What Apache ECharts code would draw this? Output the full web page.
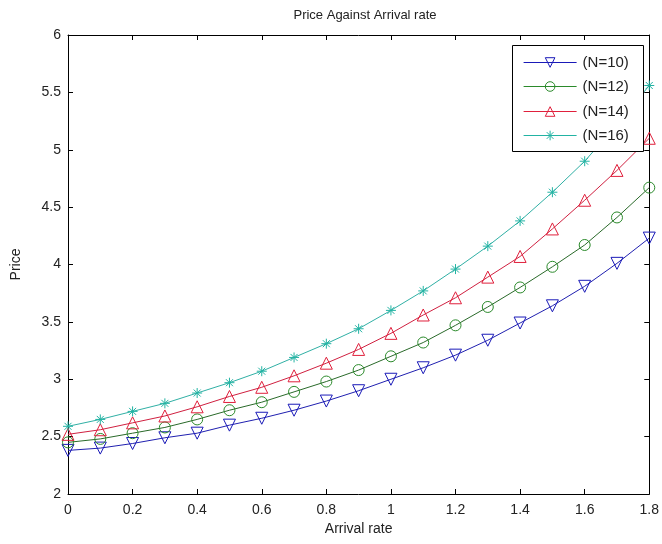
<!DOCTYPE html>
<html><head><meta charset="utf-8">
<script src="https://cdn.jsdelivr.net/npm/echarts@6/dist/echarts.min.js"></script>
<style>html,body{margin:0;padding:0;background:#fff}#c{width:662px;height:544px}</style>
</head><body><div id="c"></div>
<script>
const arrivalRate = [0,0.1,0.2,0.3,0.4,0.5,0.6,0.7,0.8,0.9,1.0,1.1,1.2,1.3,1.4,1.5,1.6,1.7,1.8];
const priceN10 = [2.38,2.40,2.44,2.49,2.53,2.60,2.66,2.73,2.81,2.90,3.00,3.10,3.21,3.34,3.49,3.64,3.81,4.01,4.23];
const priceN12 = [2.45,2.48,2.53,2.58,2.65,2.73,2.80,2.89,2.98,3.08,3.20,3.32,3.47,3.63,3.80,3.98,4.17,4.41,4.67];
const priceN14 = [2.52,2.56,2.62,2.68,2.76,2.85,2.93,3.03,3.14,3.26,3.40,3.56,3.71,3.89,4.07,4.31,4.56,4.82,5.10];
const priceN16 = [2.59,2.65,2.72,2.79,2.88,2.97,3.07,3.19,3.31,3.44,3.60,3.77,3.96,4.16,4.38,4.63,4.90,5.22,5.56];
const seriesNames = ['(N=10)','(N=12)','(N=14)','(N=16)'];
const xTicks = [0,0.2,0.4,0.6,0.8,1,1.2,1.4,1.6,1.8];

const F = 'Liberation Sans, Arial, sans-serif';
const colors = ['#1a1ab8','#2b8a2b','#e0203c','#22b3a3'];
const lineColors = ['#2020b0','#2a6a2a','#d02040','#30b0a5'];
const star = 'path://M0,-10L0,10M-10,0L10,0M-7,-7L7,7M-7,7L7,-7';
const symbols = ['triangle','circle','triangle',star];
const rotates = [180,0,0,0];
const sizes = [12,11,12,10];
const allData = [priceN10, priceN12, priceN14, priceN16];

const series = allData.map((d,i)=>({
  name: seriesNames[i], type:'line', color: colors[i], z:2,
  data: arrivalRate.map((x,j)=>[x,d[j]]),
  symbol: symbols[i], symbolRotate: rotates[i], symbolSize: sizes[i],
  showAllSymbol: true, smooth: false,
  lineStyle:{color: lineColors[i], width:1},
  itemStyle:{color:'rgba(0,0,0,0)', borderColor: colors[i], borderWidth:1},
  emphasis:{disabled:true}, animation:false
}));

const legends = seriesNames.map((n,i)=>({
  data:[n], left:523, top:55 + Math.round(i*24.3), z:20, padding:0,
  itemWidth:53, itemHeight:12, itemGap:0,
  lineStyle:{color: colors[i], width:1.2},
  itemStyle:{color:'rgba(0,0,0,0)', borderColor: colors[i], borderWidth:1},
  textStyle:{fontFamily:F, fontSize:15, color:'#222', padding:[0,0,0,1]},
  selectedMode:false
}));

const chart = echarts.init(document.getElementById('c'), null, {renderer:'canvas'});
chart.setOption({
  animation:false,
  backgroundColor:'#fff',
  title:{text:'Price Against Arrival rate', left:360, top:4, textAlign:'center',
    textStyle:{fontFamily:F, fontSize:13, fontWeight:'normal', color:'#222'}},
  grid:{left:68, right:11, top:35, bottom:50},
  graphic:[{type:'rect', left:512, top:45, z:10,
    shape:{x:0, y:0, width:131, height:106},
    style:{fill:'#fff', stroke:'#000', lineWidth:1}}],
  legend: legends,
  xAxis:[{
    type:'value', min:0, max:1.8, interval:0.2,
    name:'Arrival rate', nameLocation:'middle', nameGap:27,
    nameTextStyle:{fontFamily:F, fontSize:14, color:'#222'},
    axisLine:{show:true, onZero:false, lineStyle:{color:'#000', width:1}},
    axisTick:{show:true, inside:true, length:5, lineStyle:{color:'#000'}},
    axisLabel:{fontFamily:F, fontSize:14, color:'#222', margin:9,
      formatter:(v)=>String(Math.round(v*10)/10)},
    splitLine:{show:false}
  },{
    type:'value', min:0, max:1.8, interval:0.2, position:'top',
    axisLine:{show:true, onZero:false, lineStyle:{color:'#000', width:1}},
    axisTick:{show:true, inside:true, length:5, lineStyle:{color:'#000'}},
    axisLabel:{show:false}, splitLine:{show:false}
  }],
  yAxis:[{
    type:'value', min:2, max:6, interval:0.5,
    name:'Price', nameLocation:'middle', nameGap:45,
    nameTextStyle:{fontFamily:F, fontSize:14, color:'#222'},
    axisLine:{show:true, onZero:false, lineStyle:{color:'#000', width:1}},
    axisTick:{show:true, inside:true, length:5, lineStyle:{color:'#000'}},
    axisLabel:{fontFamily:F, fontSize:14, color:'#222', margin:7},
    splitLine:{show:false}
  },{
    type:'value', min:2, max:6, interval:0.5, position:'right',
    axisLine:{show:true, onZero:false, lineStyle:{color:'#000', width:1}},
    axisTick:{show:true, inside:true, length:5, lineStyle:{color:'#000'}},
    axisLabel:{show:false}, splitLine:{show:false}
  }],
  series: series
});
</script></body></html>
